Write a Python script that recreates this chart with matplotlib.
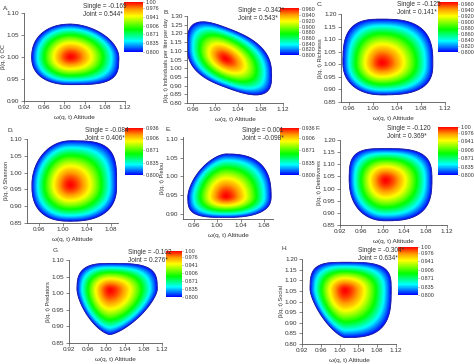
import numpy as np
import matplotlib
matplotlib.use('Agg')
import matplotlib.pyplot as plt
from matplotlib.colors import LinearSegmentedColormap

plt.rcParams['font.family'] = ['Liberation Sans', 'DejaVu Sans']

# Datos de cada panel
letras = ['A.', 'B.', 'C.', 'D.', 'E.', 'F.', 'G.', 'H.']
etiquetas_y = ['OC', 'Individuals per liter per day', 'Richness', 'Shannon',
               'Pielou', 'Detritivores', 'Predators', 'Social']
single = ['-0.169', '-0.342*', '-0.125', '-0.084', '0.001', '-0.120', '-0.102', '-0.304*']
joint = ['0.544*', '0.543*', '0.141*', '0.406*', '-0.098*', '0.369*', '0.276*', '0.634*']

# pico de la densidad (omega, beta) y valor maximo
pico_x = [1.012, 1.018, 1.015, 1.012, 1.015, 1.005, 1.008, 1.011]
pico_y = [1.000, 1.055, 1.005, 0.963, 0.946, 1.035, 1.010, 1.054]
vmax = [1.00, 0.965, 0.965, 0.936, 0.936, 1.00, 1.00, 1.00]

# borde del contorno 0.800: distancia izquierda, derecha, abajo, arriba
izq = [0.077, 0.068, 0.065, 0.064, 0.065, 0.068, 0.071, 0.074]
der = [0.096, 0.082, 0.085, 0.078, 0.077, 0.087, 0.102, 0.099]
aba = [0.063, 0.165, 0.127, 0.108, 0.056, 0.168, 0.135, 0.224]
arr = [0.075, 0.180, 0.175, 0.132, 0.114, 0.130, 0.080, 0.131]
inclin = [0.0, -1.2, 0.0, 0.0, 0.0, 0.0, 0.0, 0.0]
# exponentes de forma por cuadrante: sup-izq, sup-der, inf-izq, inf-der
forma = [[2.2, 1.8, 2.3, 3.5],
         [2.8, 2.8, 2.8, 2.8],
         [3.0, 2.8, 2.2, 2.8],
         [2.0, 3.5, 2.5, 2.5],
         [1.6, 2.6, 3.5, 2.5],
         [3.5, 3.2, 2.2, 2.8],
         [3.0, 3.5, 1.5, 1.4],
         [3.5, 3.5, 1.4, 3.0]]

ticks_a = [0.800, 0.835, 0.871, 0.906, 0.941, 0.976, 1.00]
ticks_b = [0.800, 0.820, 0.840, 0.860, 0.880, 0.900, 0.920, 0.940, 0.960]
ticks_d = [0.800, 0.835, 0.871, 0.906, 0.936]
ticks_cb = [ticks_a, ticks_b, ticks_b, ticks_d, ticks_d, ticks_a, ticks_a, ticks_a]

# Ejes: limites y ticks
xlims = [(0.92, 1.12), (0.95, 1.12), (0.947, 1.12), (0.94, 1.092),
         (0.942, 1.095), (0.92, 1.12), (0.92, 1.12), (0.92, 1.12)]
ylims = [(0.90, 1.10), (0.80, 1.30), (0.85, 1.20), (0.85, 1.10),
         (0.886, 1.105), (0.85, 1.20), (0.85, 1.10), (0.80, 1.20)]
xt_full = [0.92, 0.96, 1.00, 1.04, 1.08, 1.12]
xt_corto = [0.96, 1.00, 1.04, 1.08]
xticks = [xt_full, xt_full[1:], xt_full[1:], xt_corto, xt_corto, xt_full, xt_full, xt_full]

# Posiciones en pixeles (izq, arriba, der, abajo)
W, H = 474, 364
ejes_px = [(24, 13, 125, 101), (187, 16, 283, 103), (341, 14, 445, 102),
           (27, 139, 118, 223), (183, 137, 273, 219), (340, 140, 447, 225),
           (69, 260, 162, 343), (302, 259, 396, 344)]
barra_px = [(124, 2, 143, 52), (280, 8, 299, 55), (438, 2, 458, 52),
            (125, 128, 143, 175), (280, 128, 299, 175), (438, 127, 458, 175),
            (166, 251, 182, 297), (398, 247, 418, 295)]
letra_px = [(3, 8), (163, 12), (317, 5), (7, 130), (165, 129), (316, 128), (53, 251), (281, 248)]
texto_px = [(83, 7), (238, 10), (397, 5), (85, 130), (242, 130), (387, 128), (128, 252), (358, 250)]

cmap = LinearSegmentedColormap.from_list(
    'arcoiris', [(0.0, '#0000ff'), (0.22, '#00ffff'), (0.45, '#00ff00'),
                 (0.72, '#ffff00'), (0.86, '#ff9900'), (1.0, '#ff0000')])

GRIS = '#333333'


def rect(px):
    l, t, r, b = px
    return [l / W, 1 - b / H, (r - l) / W, (b - t) / H]


fig = plt.figure(figsize=(W / 100, H / 100), dpi=100)

for i in range(8):
    ax = fig.add_axes(rect(ejes_px[i]))
    x = np.linspace(xlims[i][0], xlims[i][1], 400)
    y = np.linspace(ylims[i][0], ylims[i][1], 400)
    X, Y = np.meshgrid(x, y)
    dx = X - pico_x[i]
    dy = Y - pico_y[i] - inclin[i] * dx
    u = dx / np.where(dx < 0, izq[i], der[i])
    v = dy / np.where(dy < 0, aba[i], arr[i])
    pul, pur, pll, plr = forma[i]
    p = np.where(v >= 0, np.where(u < 0, pul, pur), np.where(u < 0, pll, plr))
    dp = (np.abs(u) ** p + np.abs(v) ** p) ** (1 / p)
    d2 = np.sqrt(u ** 2 + v ** 2)
    w = np.clip(dp, 0, 1) ** 2
    d = dp * w + d2 * (1 - w)
    Z = vmax[i] - (vmax[i] - 0.8) * d ** 1.5
    Zm = np.ma.masked_less(Z, 0.8)
    im = ax.imshow(Zm, origin='lower', extent=[x[0], x[-1], y[0], y[-1]],
                   aspect='auto', cmap=cmap, vmin=0.8, vmax=vmax[i],
                   interpolation='bilinear')
    ax.contour(X, Y, Z, levels=[0.8005], colors='#0000b0', linewidths=0.5)
    ax.set_xlim(xlims[i])
    ax.set_ylim(ylims[i])
    ax.set_xticks(xticks[i])
    ax.set_xticklabels(['%.2f' % t for t in xticks[i]])
    yt = [t for t in np.round(np.arange(0.80, 1.31, 0.05), 2)
          if ylims[i][0] - 1e-6 <= t <= ylims[i][1] + 1e-6]
    ax.set_yticks(yt)
    ax.set_yticklabels(['%.2f' % t for t in yt])
    for s in ['top', 'right']:
        ax.spines[s].set_visible(False)
    for s in ['left', 'bottom']:
        ax.spines[s].set_color('#555555')
        ax.spines[s].set_linewidth(0.6)
    ax.tick_params(labelsize=4.6, length=2, width=0.5, colors='#555555',
                   labelcolor=GRIS, pad=1.2)
    ax.set_xlabel('ω(q, t) Altitude', fontsize=4.6, color=GRIS, labelpad=3)
    ax.set_ylabel('β(q, t) ' + etiquetas_y[i], fontsize=4.1, color=GRIS, labelpad=1)

    cax = fig.add_axes(rect(barra_px[i]))
    cb = fig.colorbar(im, cax=cax, ticks=ticks_cb[i])
    cb.outline.set_visible(False)
    etiq = ['%.2f' % t if t == 1.0 else '%.3f' % t for t in ticks_cb[i]]
    cb.set_ticklabels(etiq)
    cax.tick_params(labelsize=3.9, length=1.0, width=0.4, pad=0.8,
                    colors='#555555', labelcolor=GRIS)

    lx, ly = letra_px[i]
    fig.text(lx / W, 1 - ly / H, letras[i], fontsize=4.6, color=GRIS, va='center')
    tx, ty = texto_px[i]
    fig.text(tx / W, 1 - ty / H, 'Single = ' + single[i], fontsize=4.7,
             color=GRIS, va='center')
    fig.text(tx / W, 1 - (ty + 8) / H, 'Joint = ' + joint[i], fontsize=4.7,
             color=GRIS, va='center')

fig.savefig('out.png', dpi=100, facecolor='white')
